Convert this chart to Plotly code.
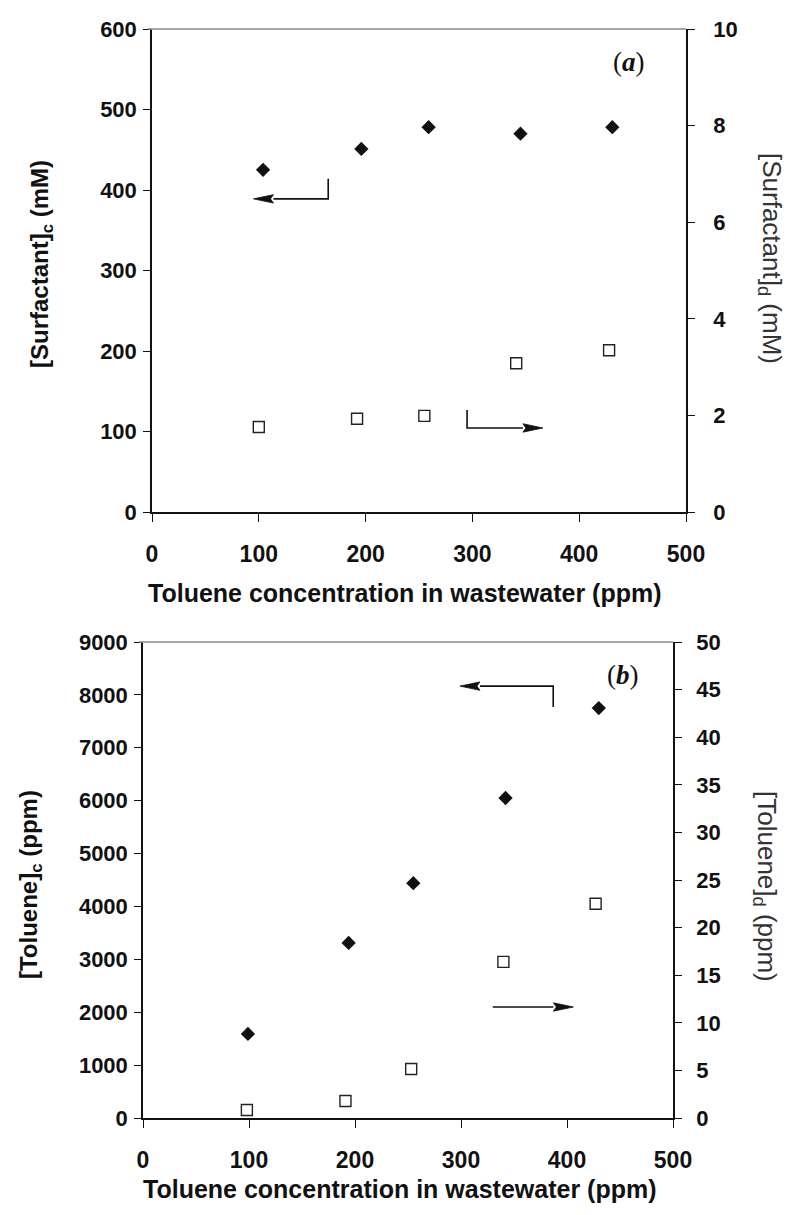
import plotly.graph_objects as go

# ---------------- data ----------------
# Panel (a)
a_x_c = [104, 196, 259, 345, 431]
surf_c = [425, 451, 478, 470, 478]          # [Surfactant]c (mM), left axis
a_x_d = [100, 192, 255, 341, 428]
surf_d = [1.76, 1.93, 1.99, 3.08, 3.35]     # [Surfactant]d (mM), right axis

# Panel (b)
b_x_c = [99, 194, 255, 342, 430]
tol_c = [1590, 3310, 4440, 6050, 7750]      # [Toluene]c (ppm), left axis
b_x_d = [98, 191, 253, 340, 427]
tol_d = [0.84, 1.79, 5.15, 16.4, 22.5]      # [Toluene]d (ppm), right axis

x_title = "Toluene concentration in wastewater (ppm)"

# indicator arrows: (tail corner x, vertical start y or None, shaft y, head tip x)
a_left_arrow = dict(cx=165, y0=414, cy=389, hx=95)
a_right_arrow = dict(cx=295, y0=2.11, cy=1.74, hx=366)
b_left_arrow = dict(cx=387, y0=7770, cy=8166, hx=299)
b_right_arrow = dict(cx=330, y0=None, cy=11.66, hx=406)

W, H = 789, 1215
FONT = "Liberation Sans, Arial, sans-serif"
SERIF = "Liberation Serif, Times New Roman, serif"
INK = "#111111"

# plot areas in pixels (left, right, top, bottom)
A_BOX = (152, 686, 29, 512)
B_BOX = (143, 673, 642, 1118)
X_RANGE = [0, 500]
Y_A, Y2_A = [0, 600], [0, 10]
Y_B, Y2_B = [0, 9000], [0, 50]


def py(px):
    return 1 - px / H


def pxx(px):
    return px / W


fig = go.Figure()

diamond = dict(symbol="diamond", size=11, color=INK, line=dict(width=0))
square = dict(symbol="square-open", size=11, color="#222222", line=dict(width=1.4))

fig.add_trace(go.Scatter(x=a_x_c, y=surf_c, mode="markers", marker=diamond,
                         xaxis="x", yaxis="y", showlegend=False))
fig.add_trace(go.Scatter(x=a_x_d, y=surf_d, mode="markers", marker=square,
                         xaxis="x", yaxis="y2", showlegend=False))
fig.add_trace(go.Scatter(x=b_x_c, y=tol_c, mode="markers", marker=diamond,
                         xaxis="x2", yaxis="y3", showlegend=False))
fig.add_trace(go.Scatter(x=b_x_d, y=tol_d, mode="markers", marker=square,
                         xaxis="x2", yaxis="y4", showlegend=False))


def add_arrow(spec, box, yrange, xa, ya, head_len=20, head_half=4.2):
    """Elbow line + narrow filled arrowhead, sized in pixels via axis scales."""
    l, r, t, b = box
    ux = (r - l) / (X_RANGE[1] - X_RANGE[0])           # px per x unit
    uy = (b - t) / (yrange[1] - yrange[0])             # px per y unit
    d = 1 if spec["hx"] > spec["cx"] else -1
    base_x = spec["hx"] - d * head_len / ux
    xs, ys = [], []
    if spec["y0"] is not None:
        xs += [spec["cx"]]
        ys += [spec["y0"]]
    xs += [spec["cx"], base_x]
    ys += [spec["cy"], spec["cy"]]
    fig.add_trace(go.Scatter(x=xs, y=ys, mode="lines",
                             line=dict(color=INK, width=1.6),
                             xaxis=xa, yaxis=ya, showlegend=False, hoverinfo="skip"))
    notch_x = spec["hx"] - d * head_len * 0.85 / ux
    hx = [spec["hx"], base_x, notch_x, base_x, spec["hx"]]
    hy = [spec["cy"], spec["cy"] + head_half / uy, spec["cy"],
          spec["cy"] - head_half / uy, spec["cy"]]
    fig.add_trace(go.Scatter(x=hx, y=hy, mode="lines", fill="toself",
                             fillcolor=INK, line=dict(color=INK, width=0.8),
                             xaxis=xa, yaxis=ya, showlegend=False, hoverinfo="skip"))


add_arrow(a_left_arrow, A_BOX, Y_A, "x", "y")
add_arrow(a_right_arrow, A_BOX, Y2_A, "x", "y2")
add_arrow(b_left_arrow, B_BOX, Y_B, "x2", "y3")
add_arrow(b_right_arrow, B_BOX, Y2_B, "x2", "y4")

xtickfont = dict(family=FONT, size=23, color=INK, weight="bold")
ytickfont = dict(family=FONT, size=22, color=INK, weight="bold")
common_x = dict(range=X_RANGE, dtick=100, tick0=0, ticks="outside", ticklen=8,
                tickwidth=1.3, tickcolor=INK, showline=True, linecolor=INK,
                linewidth=1.5, showgrid=False, zeroline=False, tickfont=xtickfont,
                ticklabelstandoff=13, automargin=False)
common_y = dict(ticks="outside", ticklen=7, tickwidth=1.3, tickcolor=INK,
                showline=True, linecolor=INK, linewidth=1.5, showgrid=False,
                zeroline=False, tickfont=ytickfont, automargin=False)

fig.update_layout(
    width=W, height=H,
    margin=dict(l=0, r=0, t=0, b=0),
    paper_bgcolor="white", plot_bgcolor="white",
    xaxis=dict(domain=[pxx(A_BOX[0]), pxx(A_BOX[1])], anchor="y", **common_x),
    yaxis=dict(domain=[py(A_BOX[3]), py(A_BOX[2])], anchor="x", range=Y_A, dtick=100,
               ticklabelstandoff=2, **common_y),
    yaxis2=dict(overlaying="y", side="right", anchor="x", range=Y2_A, dtick=2,
                ticklabelstandoff=14, **common_y),
    xaxis2=dict(domain=[pxx(B_BOX[0]), pxx(B_BOX[1])], anchor="y3", **common_x),
    yaxis3=dict(domain=[py(B_BOX[3]), py(B_BOX[2])], anchor="x2", range=Y_B,
                dtick=1000, ticklabelstandoff=2, **common_y),
    yaxis4=dict(overlaying="y3", side="right", anchor="x2", range=Y2_B,
                dtick=5, ticklabelstandoff=10, **common_y),
)

# top frame lines (gray)
for xr, yr in (("x domain", "y domain"), ("x2 domain", "y3 domain")):
    fig.add_shape(type="line", xref=xr, yref=yr, x0=-0.008, x1=1, y0=1, y1=1,
                  line=dict(color="#8a8a8a", width=1.6))

titlefont = dict(family=FONT, size=25, color=INK, weight="bold")
ann = []
# x-axis titles
ann.append(dict(text=x_title, x=pxx(405), y=py(593), xref="paper", yref="paper",
                showarrow=False, font=titlefont, xanchor="center", yanchor="middle"))
ann.append(dict(text=x_title, x=pxx(400), y=py(1189), xref="paper", yref="paper",
                showarrow=False, font=titlefont, xanchor="center", yanchor="middle"))
# left y titles
ann.append(dict(text="[Surfactant]<sub>c</sub> (mM)", x=pxx(42), y=py(264),
                xref="paper", yref="paper", showarrow=False, textangle=-90,
                font=dict(family=FONT, size=24, color=INK, weight="bold"),
                xanchor="center", yanchor="middle"))
ann.append(dict(text="[Toluene]<sub>c</sub> (ppm)", x=pxx(30), y=py(885),
                xref="paper", yref="paper", showarrow=False, textangle=-90,
                font=dict(family=FONT, size=24, color=INK, weight="bold"),
                xanchor="center", yanchor="middle"))
# right y titles
ann.append(dict(text="[Surfactant]<sub>d</sub> (mM)", x=pxx(771), y=py(258),
                xref="paper", yref="paper", showarrow=False, textangle=90,
                font=dict(family=FONT, size=26, color="#333333"),
                xanchor="center", yanchor="middle"))
ann.append(dict(text="[Toluene]<sub>d</sub> (ppm)", x=pxx(766), y=py(886),
                xref="paper", yref="paper", showarrow=False, textangle=90,
                font=dict(family=FONT, size=26, color="#333333"),
                xanchor="center", yanchor="middle"))
# panel labels
ann.append(dict(text="(<b><i>a</i></b>)", x=447, y=559, xref="x", yref="y",
                showarrow=False, font=dict(family=SERIF, size=27, color=INK),
                xanchor="center", yanchor="middle"))
ann.append(dict(text="(<b><i>b</i></b>)", x=453, y=8380, xref="x2", yref="y3",
                showarrow=False, font=dict(family=SERIF, size=27, color=INK),
                xanchor="center", yanchor="middle"))

fig.update_layout(annotations=ann)

fig.write_html("out.html")
